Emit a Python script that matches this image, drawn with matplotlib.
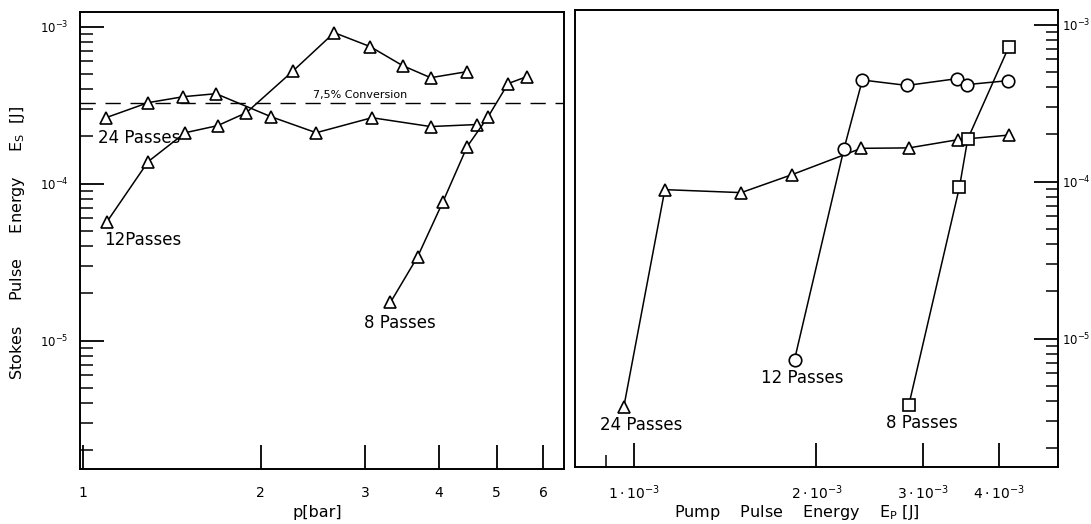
import numpy as np
import matplotlib
matplotlib.use('Agg')
import matplotlib.pyplot as plt
from matplotlib.ticker import FixedLocator, NullLocator, LogLocator, NullFormatter

plt.rcParams['font.family'] = ['DejaVu Sans']
plt.rcParams['mathtext.fontset'] = 'dejavusans'

# left panel: Stokes energy vs pressure
p_24 = [1.095, 1.29, 1.48, 1.68, 2.08, 2.48, 3.08, 3.87, 4.64]
es_24 = [2.63e-4, 3.28e-4, 3.58e-4, 3.74e-4, 2.67e-4, 2.11e-4, 2.63e-4, 2.31e-4, 2.38e-4]
p_12 = [1.10, 1.29, 1.49, 1.69, 1.89, 2.27, 2.66, 3.06, 3.47, 3.87, 4.46]
es_12 = [5.73e-5, 1.38e-4, 2.11e-4, 2.34e-4, 2.83e-4, 5.25e-4, 9.16e-4, 7.46e-4,
         5.65e-4, 4.73e-4, 5.17e-4]
p_8 = [3.31, 3.68, 4.06, 4.46, 4.84, 5.23, 5.63]
es_8 = [1.75e-5, 3.43e-5, 7.67e-5, 1.72e-4, 2.67e-4, 4.34e-4, 4.81e-4]
conversion_level = 3.28e-4

# right panel: Stokes energy vs pump energy
ep_24 = [0.963e-3, 1.125e-3, 1.503e-3, 1.825e-3, 2.37e-3, 2.84e-3, 3.42e-3, 4.15e-3]
es2_24 = [3.69e-6, 8.89e-5, 8.51e-5, 1.11e-4, 1.63e-4, 1.64e-4, 1.85e-4, 1.98e-4]
ep_12 = [1.84e-3, 2.22e-3, 2.38e-3, 2.82e-3, 3.41e-3, 3.54e-3, 4.14e-3]
es2_12 = [7.34e-6, 1.62e-4, 4.44e-4, 4.10e-4, 4.53e-4, 4.15e-4, 4.40e-4]
ep_8 = [2.84e-3, 3.44e-3, 3.55e-3, 4.15e-3]
es2_8 = [3.80e-6, 9.21e-5, 1.87e-4, 7.24e-4]

p_ticks = [1, 2, 3, 4, 5, 6]
p_ticklabels = ['1', '2', '3', '4', '5', '6']
ep_ticks = [1e-3, 2e-3, 3e-3, 4e-3]
ep_ticklabels = [r'$1\cdot10^{-3}$', r'$2\cdot10^{-3}$', r'$3\cdot10^{-3}$', r'$4\cdot10^{-3}$']
es_ticks = [1e-5, 1e-4, 1e-3]
es_ticklabels = [r'$10^{-5}$', r'$10^{-4}$', r'$10^{-3}$']

W, H = 1091, 524
YLIM = (1.52e-6, 1.24e-3)

fig = plt.figure(figsize=(W / 100, H / 100), dpi=100)
ax1 = fig.add_axes([80 / W, 1 - 469 / H, 484 / W, 457 / H])
ax2 = fig.add_axes([575 / W, 1 - 467 / H, 483 / W, 457 / H])

line_kw = dict(color='black', lw=1.1, mfc='white', mec='black', mew=1.2)

for ax in (ax1, ax2):
    ax.set_xscale('log')
    ax.set_yscale('log')
    ax.set_ylim(*YLIM)
    for s in ax.spines.values():
        s.set_linewidth(1.4)
    ax.yaxis.set_major_locator(FixedLocator(es_ticks))
    ax.yaxis.set_minor_locator(LogLocator(base=10, subs=np.arange(2, 10)))
    ax.yaxis.set_minor_formatter(NullFormatter())
    ax.set_yticklabels(es_ticklabels)
    ax.tick_params(which='major', direction='in', length=17, width=1.3, labelsize=8.5)
    ax.tick_params(which='minor', direction='in', length=9, width=1.1)
    ax.tick_params(axis='x', which='major', pad=12, labelsize=10)

# left panel
ax1.plot(p_24, es_24, marker='^', ms=9, **line_kw)
ax1.plot(p_12, es_12, marker='^', ms=9, **line_kw)
ax1.plot(p_8, es_8, marker='^', ms=9, **line_kw)
ax1.axhline(conversion_level, color='black', lw=1.0, dashes=(11, 7), zorder=1)
ax1.set_xlim(0.99, 6.5)
ax1.xaxis.set_major_locator(FixedLocator(p_ticks))
ax1.xaxis.set_minor_locator(NullLocator())
ax1.set_xticklabels(p_ticklabels)
ax1.tick_params(axis='y', which='both', left=True, right=False, pad=8)
ax1.tick_params(axis='x', which='both', bottom=True, top=False)

# right panel
ax2.plot(ep_24, es2_24, marker='^', ms=9, **line_kw)
ax2.plot(ep_12, es2_12, marker='o', ms=9, **line_kw)
ax2.plot(ep_8, es2_8, marker='s', ms=8, **line_kw)
ax2.set_xlim(0.8e-3, 5.0e-3)
ax2.xaxis.set_major_locator(FixedLocator(ep_ticks))
ax2.xaxis.set_minor_locator(FixedLocator([0.9e-3]))
ax2.xaxis.set_minor_formatter(NullFormatter())
ax2.set_xticklabels(ep_ticklabels)
ax2.yaxis.tick_right()
ax2.tick_params(axis='y', which='both', left=False, right=True, labelleft=False,
                labelright=True, pad=3)
ax2.tick_params(axis='x', which='both', bottom=True, top=False)


def put(x, y, s, **kw):
    fig.text(x / W, 1 - y / H, s, ha='center', va='center', **kw)


put(139, 138, '24 Passes', fontsize=12)
put(143, 240, '12Passes', fontsize=12)
put(400, 323, '8 Passes', fontsize=12)
put(360, 95, '7,5% Conversion', fontsize=8)
put(641, 425, '24 Passes', fontsize=12)
put(802, 378, '12 Passes', fontsize=12)
put(922, 423, '8 Passes', fontsize=12)

put(317, 513, 'p[bar]', fontsize=11.5)
put(797, 513, 'Pump    Pulse    Energy    E$_\\mathrm{P}$ [J]', fontsize=11.5)
put(18, 243, 'Stokes     Pulse     Energy     E$_\\mathrm{S}$  [J]', fontsize=11.5, rotation=90)

fig.savefig('out.png', dpi=100)
